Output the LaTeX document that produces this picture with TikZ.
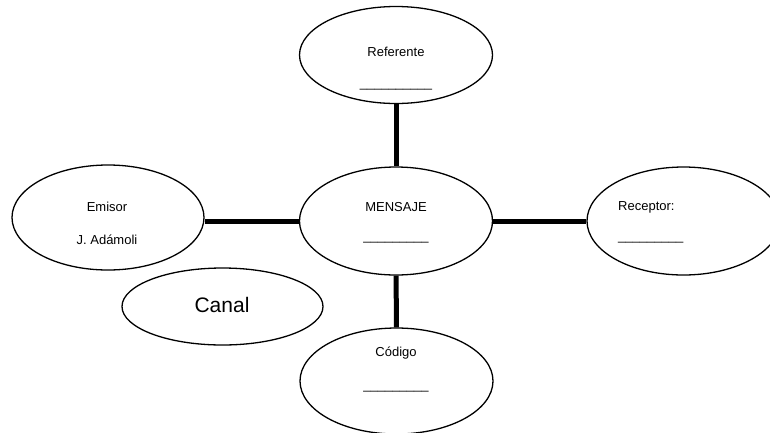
\documentclass[tikz,border=0pt]{standalone}
\usepackage{fontspec}
\setmainfont{Liberation Sans}
\usetikzlibrary{shapes.geometric}
\begin{document}
\begin{tikzpicture}[x=1pt,y=-1pt,
  bubble/.style={draw=black, line width=1.3pt, ellipse, inner sep=0pt, fill=white},
  link/.style={line width=5pt},
  lbl/.style={inner sep=0pt, font=\fontsize{13}{15}\selectfont},
  big/.style={inner sep=0pt, font=\fontsize{21}{25}\selectfont}]
\useasboundingbox (0,0) rectangle (770,432);
\fill[white] (0,0) rectangle (770,432);
% ellipses
\node[bubble, minimum width=193pt, minimum height=97pt] (ref) at (396,55) {};
\node[bubble, minimum width=193pt, minimum height=108pt] (men) at (396,221) {};
\node[bubble, minimum width=192pt, minimum height=105pt] (emi) at (108,217.5) {};
\node[bubble, minimum width=193pt, minimum height=108pt] (rec) at (683.5,221) {};
\node[bubble, minimum width=193pt, minimum height=106pt] (cod) at (396.5,381) {};
\node[bubble, minimum width=201pt, minimum height=77pt] (can) at (222.5,306.5) {};
% connectors
\draw[link] (ref) -- (men);
\draw[link] (emi.east |- men) -- (men);
\draw[link] (men) -- (rec);
\draw[link] (men) -- (cod);
% texts
\node[lbl] (reft) at (396,52) {Referente};
\node[lbl] (refu) at (396,89) {\_\_\_\_\_\_\_\_\_\_};
\node[lbl] (ment) at (396,207) {MENSAJE};
\node[lbl] (menu) at (396,242) {\_\_\_\_\_\_\_\_\_};
\node[lbl] (emit) at (107,207) {Emisor};
\node[lbl] (emiu) at (107,240) {J. Ad\'amoli};
\node[lbl, anchor=west] (rect) at (618,207) {Receptor:};
\node[lbl, anchor=west] (recu) at (618,242) {\_\_\_\_\_\_\_\_\_};
\node[lbl] (codt) at (396,353) {C\'odigo};
\node[lbl] (codu) at (396,391) {\_\_\_\_\_\_\_\_\_};
\node[big] (cant) at (222,305) {Canal};
\end{tikzpicture}
\end{document}
